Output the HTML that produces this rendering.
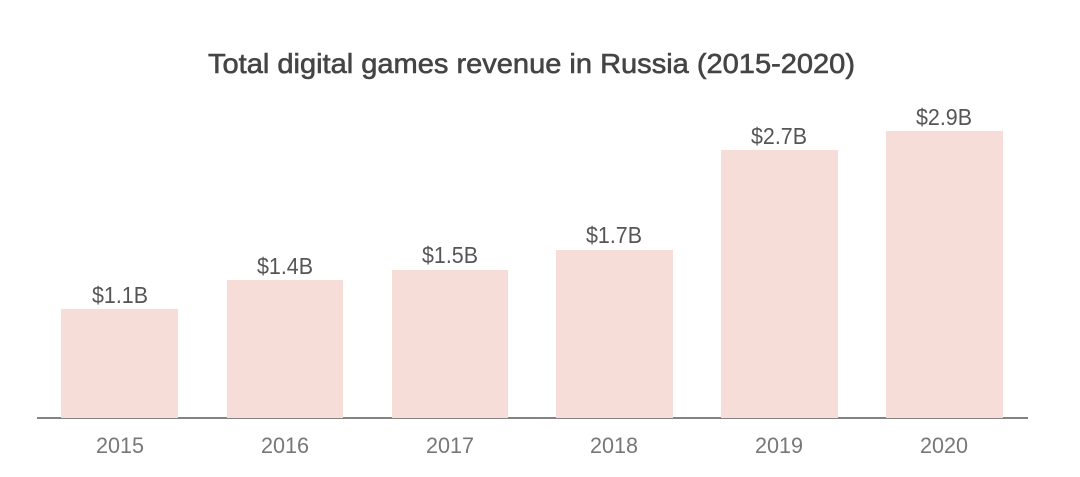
<!DOCTYPE html>
<html><head><meta charset="utf-8"><style>
html,body{margin:0;padding:0;background:#fff;}
svg{display:block;}
</style></head><body>
<svg width="1080" height="477" viewBox="0 0 1080 477" xmlns="http://www.w3.org/2000/svg" font-family="'Liberation Sans', sans-serif">
<rect width="1080" height="477" fill="#fff"/>
<text x="208" y="73" font-size="28" fill="#444" stroke="#444" stroke-width="0.6" textLength="647" lengthAdjust="spacingAndGlyphs">Total digital games revenue in Russia (2015-2020)</text>
<line x1="37" y1="418" x2="1028" y2="418" stroke="#5a5a5a" stroke-width="1.6"/>
<g fill="#f7ddd7">
<rect x="61" y="309" width="117" height="109"/>
<rect x="227" y="280" width="116" height="138"/>
<rect x="392" y="270" width="116" height="148"/>
<rect x="556" y="250" width="117" height="168"/>
<rect x="721" y="150" width="117" height="268"/>
<rect x="886" y="131" width="117" height="287"/>
</g>
<g font-size="23" fill="#555" text-anchor="middle">
<text x="120" y="303" textLength="56" lengthAdjust="spacingAndGlyphs">$1.1B</text>
<text x="285" y="274" textLength="56" lengthAdjust="spacingAndGlyphs">$1.4B</text>
<text x="450" y="263" textLength="56" lengthAdjust="spacingAndGlyphs">$1.5B</text>
<text x="614" y="243" textLength="56" lengthAdjust="spacingAndGlyphs">$1.7B</text>
<text x="779" y="144" textLength="56" lengthAdjust="spacingAndGlyphs">$2.7B</text>
<text x="944" y="125" textLength="56" lengthAdjust="spacingAndGlyphs">$2.9B</text>
</g>
<g font-size="22" fill="#777" text-anchor="middle">
<text x="120" y="453" textLength="48" lengthAdjust="spacingAndGlyphs">2015</text>
<text x="285" y="453" textLength="48" lengthAdjust="spacingAndGlyphs">2016</text>
<text x="450" y="453" textLength="48" lengthAdjust="spacingAndGlyphs">2017</text>
<text x="614" y="453" textLength="48" lengthAdjust="spacingAndGlyphs">2018</text>
<text x="779" y="453" textLength="48" lengthAdjust="spacingAndGlyphs">2019</text>
<text x="944" y="453" textLength="48" lengthAdjust="spacingAndGlyphs">2020</text>
</g>
</svg>
</body></html>
